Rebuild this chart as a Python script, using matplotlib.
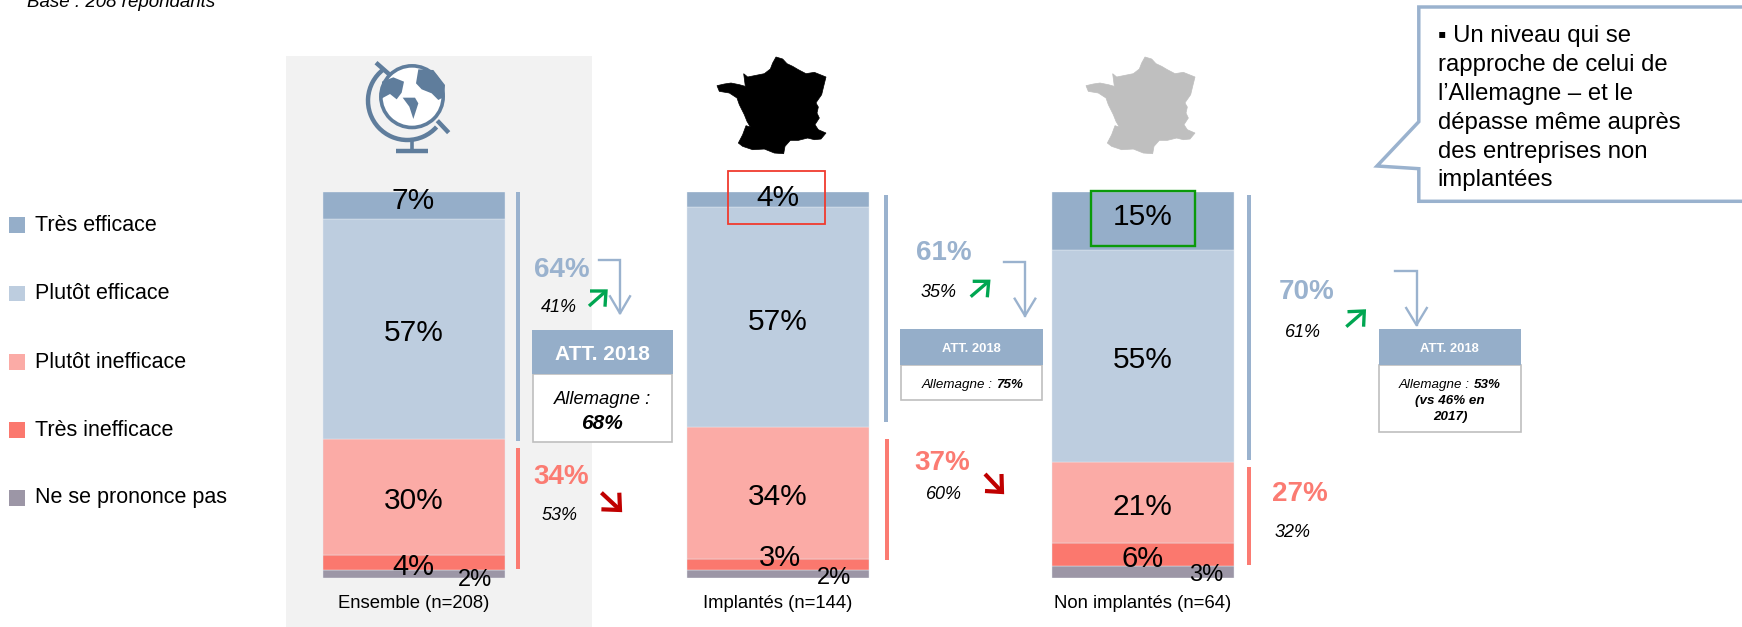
import matplotlib
matplotlib.use('Agg')
import matplotlib.pyplot as plt
from matplotlib.patches import Rectangle, Polygon, Ellipse, Arc
import numpy as np

plt.rcParams['font.family'] = ['Liberation Sans', 'DejaVu Sans']

#---------------------------     data     ---------------------------#

groups = ['Ensemble (n=208)', 'Implantés (n=144)', 'Non implantés (n=64)']
legend_labels = ['Très efficace', 'Plutôt efficace', 'Plutôt inefficace', 'Très inefficace', 'Ne se prononce pas']
tres_efficace = [7, 4, 15]
plutot_efficace = [57, 57, 55]
plutot_inefficace = [30, 34, 21]
tres_inefficace = [4, 3, 6]
nsp = [2, 2, 3]
total_efficace = [64, 61, 70]
total_inefficace = [34, 37, 27]
prev_efficace = [41, 35, 61]
prev_inefficace = [53, 60, 32]
allemagne = ['68%', '75%', '53%']

colors = ['#95AEC9', '#BDCDDF', '#FBABA6', '#FB786E', '#9C96A6']
c_line = '#9AB2CE'
c_red = '#FB7B72'
c_icon = '#5F7D9C'

# France outline, pixels from the reference, normalised below
france = np.array([
    (195,22),(215,28),(228,42),(245,50),(262,60),(285,72),(310,68),(345,82),(338,110),
    (332,135),(318,155),(302,178),(315,160),(322,172),(318,190),(325,205),(312,225),
    (322,240),(345,250),(330,268),(310,270),(290,265),(262,272),(238,272),(222,290),
    (218,312),(190,310),(160,298),(125,300),(95,290),(82,280),(95,255),(105,228),
    (118,232),(108,215),(100,195),(85,165),(78,145),(55,130),(25,125),(18,108),(40,103),
    (60,100),(85,105),(103,110),(98,72),(110,82),(130,78),(160,72),(178,58),(185,40)], dtype=float)
france[:,0] = (france[:,0] - 18) / 327
france[:,1] = (france[:,1] - 22) / 293

#---------------------------     figure     ---------------------------#

fig = plt.figure(figsize=(17.42, 6.27), dpi=100, facecolor='white')

bg = fig.add_axes([0, 0, 1, 1], zorder=0)
bg.set_xlim(0, 1742)
bg.set_ylim(627, 0)
bg.axis('off')
bg.add_patch(Rectangle((286, 56), 306, 571, fc='#F2F2F2', ec='none'))

# stacked bars, 0-100 maps on pixel rows 578-191.7
ax = fig.add_axes([0, (627 - 578) / 627, 1, 386.3 / 627], zorder=1)
ax.set_xlim(0, 1742)
ax.set_ylim(0, 100)
ax.axis('off')
ax.patch.set_alpha(0)
xc = [413.5, 778, 1142.8]
bottom = np.zeros(3)
for vals, col in zip([nsp, tres_inefficace, plutot_inefficace, plutot_efficace, tres_efficace],
                     [colors[4], colors[3], colors[2], colors[1], colors[0]]):
    ax.bar(xc, vals, width=182, bottom=bottom, color=col, edgecolor='#E6ECF3', linewidth=0.3)
    bottom += np.array(vals)

top = fig.add_axes([0, 0, 1, 1], zorder=2)
top.set_xlim(0, 1742)
top.set_ylim(627, 0)
top.axis('off')
top.patch.set_alpha(0)

def txt(x, y, s, size, **kw):
    kw.setdefault('ha', 'center')
    kw.setdefault('va', 'center')
    kw.setdefault('color', 'black')
    # va center sits a little high for these fonts
    return top.text(x, y + 0.16 * size, s, fontsize=size, **kw)

def hook(x0, y0, x1, y1, arm):
    top.plot([x0, x1, x1], [y0, y0, y1], color=c_line, lw=1.7, solid_joinstyle='miter')
    top.plot([x1 - arm, x1, x1 + arm], [y1 - 17, y1, y1 - 17], color=c_line, lw=1.7)

def updown(tail, tip, a, b, col, lw=2.4):
    top.plot([tail[0], tip[0]], [tail[1], tip[1]], color=col, lw=lw, solid_capstyle='butt')
    top.plot([a[0], tip[0], b[0]], [a[1], tip[1], b[1]], color=col, lw=lw,
             solid_joinstyle='miter', solid_capstyle='butt')

# header cut by the top edge
txt(27, 0, 'Base : 208 répondants', 13.5, ha='left', style='italic', clip_on=False)

# legend
for lab, col, ys, yt in zip(legend_labels, colors, [224.8, 293.5, 362, 430, 498], [223.3, 291, 360, 427.8, 495.5]):
    top.add_patch(Rectangle((9, ys - 7.8), 16, 15.6, fc=col, ec='none'))
    txt(34.8, yt, lab, 15.5, ha='left')

# labels inside the bars
big_y = [[198, 330, 497.3], [195, 318.3, 494], [213.3, 356.7, 503.3]]
for i in range(3):
    txt(xc[i], big_y[i][0], '%d%%' % tres_efficace[i], 21.5)
    txt(xc[i], big_y[i][1], '%d%%' % plutot_efficace[i], 21.5)
    txt(xc[i], big_y[i][2], '%d%%' % plutot_inefficace[i], 21.5)
    txt([413.5, 780, 1142.4][i], [563.3, 554.3, 555.7][i], '%d%%' % tres_inefficace[i], 21)
    txt([474.6, 834, 1206.7][i], [577.7, 575, 572.7][i], '%d%%' % nsp[i], 17)
    txt([413.5, 777.8, 1142.4][i], 601, groups[i], 13.3)

# highlight boxes
top.add_patch(Rectangle((727.7, 170.7), 97.3, 53.3, fc='none', ec='#F03A2E', lw=1.3))
top.add_patch(Rectangle((1091.3, 191.3), 103.2, 54.7, fc='none', ec='#0A9A0A', lw=1.7))

# side brackets
for x, y0, y1 in [(515.6, 191.7, 441), (884, 195, 421.7), (1246.6, 195, 460)]:
    top.add_patch(Rectangle((x, y0), 4.2, y1 - y0, fc=c_line, ec='none'))
for x, y0, y1 in [(516, 448, 568.7), (885.2, 439, 559.7), (1246.6, 467, 565)]:
    top.add_patch(Rectangle((x, y0), 4.2, y1 - y0, fc=c_red, ec='none'))

# totals
pos_eff = [(561.5, 266.7), (944, 250), (1307, 289)]
pos_ineff = [(561, 474), (942, 460), (1300, 490.7)]
pos_prev_eff = [(558.7, 305.7), (938.7, 290), (1303, 330)]
pos_prev_ineff = [(560, 513.7), (943.8, 492.7), (1292.4, 530)]
for i in range(3):
    txt(pos_eff[i][0], pos_eff[i][1], '%d%%' % total_efficace[i], 20, weight='bold', color=c_line)
    txt(pos_ineff[i][0], pos_ineff[i][1], '%d%%' % total_inefficace[i], 20, weight='bold', color=c_red)
    txt(pos_prev_eff[i][0], pos_prev_eff[i][1], '%d%%' % prev_efficace[i], 13, style='italic')
    txt(pos_prev_ineff[i][0], pos_prev_ineff[i][1], '%d%%' % prev_inefficace[i], 13, style='italic')

# evolution arrows
g = '#00A651'
d = '#C00000'
updown((589, 306), (606, 291), (590, 291), (605, 306.7), g)
updown((970.7, 296.7), (988.7, 281.3), (972.7, 281.3), (987.3, 297.3), g)
updown((1346.3, 326.7), (1364.3, 311), (1347.5, 311.7), (1363.6, 326.7), g)
updown((601.4, 492.7), (620, 510), (601.4, 509.3), (619.3, 492.7), d, 3)
updown((985, 474), (1002, 492), (985, 491), (1001.5, 474), d, 3)

# arrows to the boxes
hook(599.3, 260, 620, 313.3, 10)
hook(1004, 261.7, 1025, 315.7, 10.3)
hook(1395, 270.7, 1416.5, 325, 10.3)

# ATT. 2018 boxes
for x0, x1, y0, y1, y2, fs in [(531.8, 672.9, 330, 374, 442.3, 15),
                               (900, 1043, 329, 365, 400.3, 9.4),
                               (1378.5, 1521.2, 329.3, 365, 432.3, 9.4)]:
    top.add_patch(Rectangle((x0 + 0.7, y1), x1 - x0 - 1.4, y2 - y1 - 0.7, fc='white', ec='#BFBFBF', lw=1.2))
    top.add_patch(Rectangle((x0, y0), x1 - x0, y1 - y0, fc=colors[0], ec='none'))
    txt((x0 + x1) / 2, (y0 + y1) / 2, 'ATT. 2018', fs, weight='bold', color='white')

txt(602.3, 397, 'Allemagne :', 13.2, style='italic')
txt(602.3, 420.7, allemagne[0], 15, style='italic', weight='bold')
txt(996, 383.3, 'Allemagne : ', 9.6, style='italic', ha='right')
txt(996, 383.3, allemagne[1], 9.6, style='italic', weight='bold', ha='left')
txt(1473.8, 383.3, 'Allemagne : ', 9.6, style='italic', ha='right')
txt(1473.8, 383.3, allemagne[2], 9.6, style='italic', weight='bold', ha='left')
txt(1450, 399.3, '(vs 46% en', 9.6, style='italic', weight='bold')
txt(1450, 415.3, '2017)', 9.6, style='italic', weight='bold')

# callout
call = [(1760, 7), (1418.8, 7), (1418.8, 121.7), (1377, 166), (1418.8, 168.7), (1418.8, 201.3), (1760, 201.3)]
top.add_patch(Polygon(call, closed=False, fc='white', ec=c_line, lw=2.5, joinstyle='miter', clip_on=True))
call_lines = ['▪ Un niveau qui se', 'rapproche de celui de', 'l’Allemagne – et le',
              'dépasse même auprès', 'des entreprises non', 'implantées']
for s, y in zip(call_lines, [33.3, 62.3, 91.3, 120, 149, 177]):
    txt(1437.8, y, s, 17.2, ha='left')

# France icons
for x0, col in [(717, 'black'), (1086, '#BFBFBF')]:
    pts = france * [109, 97.7] + [x0, 57]
    top.add_patch(Polygon(pts, closed=True, fc=col, ec=col, lw=0.5))

# globe icon, drawn in the zoomed crop's frame
def gl(u, v):
    return (350 + u / 3, 50 + v / 3)

top.add_patch(Ellipse(gl(186, 140), 187 / 3, 185 / 3, fc='white', ec=c_icon, lw=2.6))
land = [[(96,95),(130,82),(162,95),(155,128),(140,148),(120,132),(96,145)],
        [(158,143),(195,143),(205,160),(190,207),(178,170)],
        [(205,58),(250,60),(285,105),(283,140),(265,150),(245,130),(215,118),(198,100)]]
for p in land:
    top.add_patch(Polygon([gl(*q) for q in p], closed=True, fc=c_icon, ec='none'))
top.add_patch(Arc(gl(172, 152), 236 / 3, 236 / 3, angle=0, theta1=42, theta2=232, ec=c_icon, lw=3.2))
top.plot(*zip(gl(78, 38), gl(120, 75)), color=c_icon, lw=3.2, solid_capstyle='butt')
top.plot(*zip(gl(262, 212), gl(296, 248)), color=c_icon, lw=3.2, solid_capstyle='butt')
top.plot(*zip(gl(185, 268), gl(185, 300)), color=c_icon, lw=2.6, solid_capstyle='butt')
top.plot(*zip(gl(137, 304), gl(235, 304)), color=c_icon, lw=3.2, solid_capstyle='butt')

fig.savefig('out.png', dpi=100)
